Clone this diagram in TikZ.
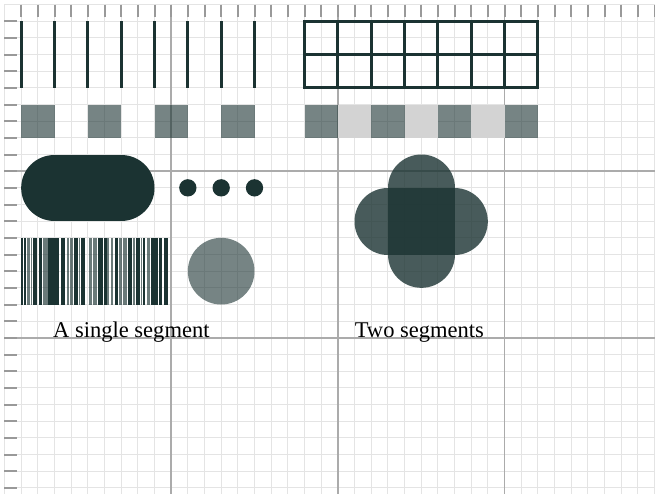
\documentclass[tikz,border=0pt]{standalone}
\usepackage{fontspec}
\setmainfont{Liberation Serif}
\definecolor{ink}{HTML}{1B3332}
\definecolor{minorgrid}{HTML}{E4E4E4}
\definecolor{majorgrid}{HTML}{ABABAB}
\definecolor{tickgray}{HTML}{999999}
\definecolor{lightsq}{HTML}{D3D3D3}
\tikzset{
  minorline/.style={draw=minorgrid, line width=0.75pt},
  majorline/.style={draw=majorgrid, line width=1.1pt},
  tickline/.style={draw=tickgray, line width=1.5pt},
  strokeline/.style={draw=ink, line width=2.4pt},
  halfink/.style={fill=ink, fill opacity=0.6},
  pill/.style={draw=ink, line width=50pt, line cap=round},
  lobe/.style={draw=ink, line width=50pt, line cap=round, draw opacity=0.8},
  darkbar/.style={fill=ink},
  midbar/.style={fill=ink, fill opacity=0.65},
  caption/.style={font=\fontsize{16.9pt}{20pt}\selectfont, inner sep=0pt, anchor=base west, text=black}
}
\begin{document}
\begin{tikzpicture}[x=12.5pt, y=-12.5pt]
\useasboundingbox (-0.27,-0.27) rectangle (39.03,29.37);
\fill[white] (-0.27,-0.27) rectangle (39.03,29.37);
% grid
\foreach \i in {0,...,39} \draw[minorline] (\i,0) -- (\i,29.37);
\foreach \j in {0,...,29} \draw[minorline] (0,\j) -- (39.03,\j);
\foreach \i in {10,20,30} {
  \draw[majorline] (\i,0) -- (\i,29.37);
  \draw[majorline] (0,\i) -- (39.03,\i);
}
% rulers
\foreach \i in {1,...,39} \draw[tickline] (\i,0) -- (\i,0.75);
\foreach \j in {1,...,29} \draw[tickline] (0,\j) -- (0.75,\j);
% vertical strokes
\foreach \i in {1,3,...,15} \draw[strokeline] (\i,1) -- (\i,5);
% table grid
\draw[strokeline] (18,1) rectangle (32,5);
\draw[strokeline] (18,3) -- (32,3);
\foreach \i in {20,22,...,30} \draw[strokeline] (\i,1) -- (\i,5);
% squares row left
\foreach \i in {1,5,9,13} \fill[halfink] (\i,6) rectangle ++(2,2);
% squares row right
\foreach \i in {18,22,26,30} \fill[halfink] (\i,6) rectangle ++(2,2);
\foreach \i in {20,24,28} \fill[lightsq] (\i,6) rectangle ++(2,2);
% stadium
\draw[pill] (3,11) -- (7,11);
% dots
\foreach \i in {11,13,15} \fill[ink] (\i,11) circle[radius=0.52];
% circle
\fill[halfink] (13,16) circle[radius=2];
% barcode
\foreach \a/\b in {0.99/1.09,1.17/1.31,1.69/1.93,2.05/2.25,2.61/3.01,3.05/3.25,3.37/3.61,4.17/4.41,4.57/4.81,5.61/5.93,5.97/6.13,6.65/6.81,7.41/7.65,7.89/8.13,8.29/8.45,8.81/9.21,9.25/9.45,9.57/9.79}
  \fill[darkbar] (\a,14) rectangle (\b,18);
\foreach \a/\b in {1.37/1.53,1.56/1.65,2.33/2.49,2.51/2.59,3.73/3.89,3.93/4.13,4.44/4.54,5.05/5.25,5.33/5.57,6.17/6.29,6.41/6.53,6.85/6.92,6.94/7.05,7.13/7.33,7.68/7.85,8.16/8.26,8.53/8.73}
  \fill[midbar] (\a,14) rectangle (\b,18);
% two segments shape
\draw[lobe] (23,13) -- (27,13);
\draw[lobe] (25,11) -- (25,15);
% captions
\node[caption] (single) at (2.9,20) {A single segment};
\node[caption] (two) at (21,20) {Two segments};
\end{tikzpicture}
\end{document}
